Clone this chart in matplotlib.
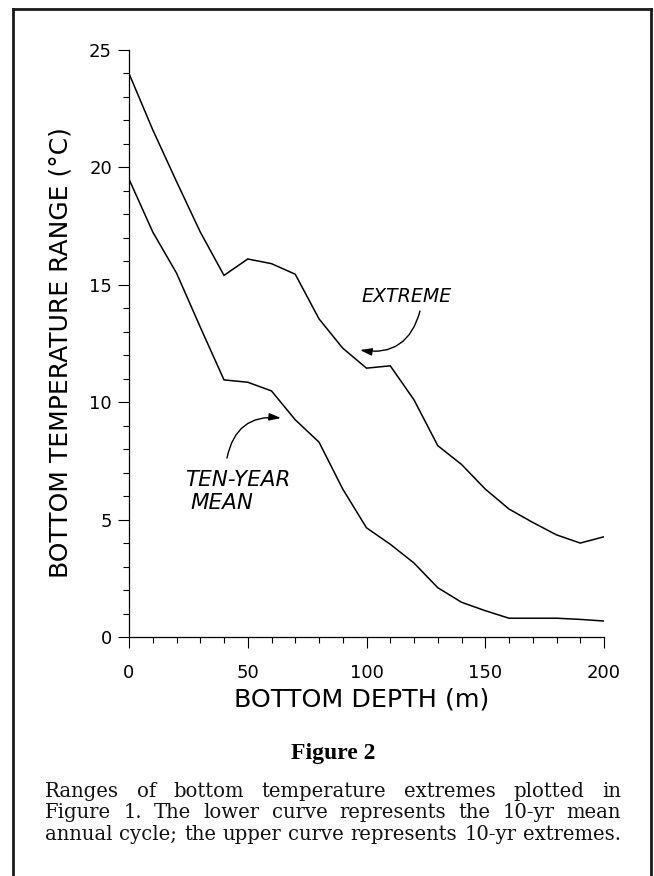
import matplotlib
matplotlib.use("Agg")
import matplotlib.pyplot as plt
from matplotlib.lines import Line2D
from matplotlib.ticker import MultipleLocator

# ---- data ----
depth = [0, 10, 20, 30, 40, 50, 60, 70, 80, 90, 100, 110, 120, 130, 140, 150,
         160, 170, 180, 190, 200]
extreme = [24.0, 21.6, 19.4, 17.25, 15.4, 16.1, 15.9, 15.45, 13.55, 12.3, 11.45,
           11.55, 10.1, 8.15, 7.35, 6.3, 5.45, 4.88, 4.35, 4.0, 4.27]
ten_year_mean = [19.5, 17.25, 15.5, 13.2, 10.95, 10.85, 10.48, 9.25, 8.3, 6.3, 4.65,
                 3.95, 3.15, 2.1, 1.48, 1.12, 0.8, 0.8, 0.8, 0.75, 0.68]
x_ticks = [0, 50, 100, 150, 200]
y_ticks = [0, 5, 10, 15, 20, 25]
x_label = "BOTTOM DEPTH (m)"
y_label = "BOTTOM TEMPERATURE RANGE (°C)"
caption_title = "Figure 2"
caption_lines = [
    "Ranges of bottom temperature extremes plotted in",
    "Figure 1. The lower curve represents the 10-yr mean",
    "annual cycle; the upper curve represents 10-yr extremes.",
]

W, H = 654, 876
fig = plt.figure(figsize=(W / 100, H / 100), dpi=100)
fig.patch.set_facecolor("white")

def fx(px):
    return px / W

def fy(py):
    return 1 - py / H

ax_l, ax_r, ax_t, ax_b = 129, 604, 50, 637
ax = fig.add_axes([fx(ax_l), fy(ax_b), (ax_r - ax_l) / W, (ax_b - ax_t) / H])
ax.plot(depth, extreme, color="black", lw=1.1, solid_joinstyle="miter")
ax.plot(depth, ten_year_mean, color="black", lw=1.1, solid_joinstyle="miter")
ax.set_xlim(0, 200)
ax.set_ylim(0, 25)
for s in ["top", "right"]:
    ax.spines[s].set_visible(False)
for s in ["left", "bottom"]:
    ax.spines[s].set_linewidth(0.9)
ax.set_xticks(x_ticks)
ax.set_yticks(y_ticks)
ax.xaxis.set_minor_locator(MultipleLocator(10))
ax.yaxis.set_minor_locator(MultipleLocator(1))
ax.tick_params(which="major", direction="out", length=8.2, width=0.8, labelsize=13)
ax.tick_params(which="minor", direction="out", length=4.5, width=0.8)
ax.tick_params(axis="y", which="major", pad=4)
ax.tick_params(axis="x", which="major", pad=11)
for lab in ax.get_xticklabels() + ax.get_yticklabels():
    lab.set_fontfamily("DejaVu Sans")

# axis labels
fig.text(fx(362), fy(700), x_label, ha="center", va="center", fontsize=18.3,
         family="DejaVu Sans")
fig.text(fx(61), fy(352.5), y_label, ha="center", va="center", rotation=90,
         fontsize=18, family="DejaVu Sans")

# annotations
def dx(px):
    return (px - ax_l) / (ax_r - ax_l) * 200

def dy(py):
    return (ax_b - py) / (ax_b - ax_t) * 25

ax.text(dx(406.5), dy(297), "EXTREME", ha="center", va="center", fontsize=13.7,
        style="italic", family="DejaVu Sans")
ax.annotate("", xy=(dx(360), dy(350)), xytext=(dx(420), dy(311)),
            arrowprops=dict(arrowstyle="-|>,head_length=0.7,head_width=0.22",
                            connectionstyle="arc3,rad=-0.45", color="black",
                            lw=1.0, shrinkA=0, shrinkB=0))
ax.text(dx(185), dy(480), "TEN-YEAR", ha="left", va="center", fontsize=15.5,
        style="italic", family="DejaVu Sans")
ax.text(dx(190), dy(503), "MEAN", ha="left", va="center", fontsize=15.5,
        style="italic", family="DejaVu Sans")
ax.annotate("", xy=(dx(281), dy(418)), xytext=(dx(227), dy(458)),
            arrowprops=dict(arrowstyle="-|>,head_length=0.7,head_width=0.22",
                            connectionstyle="arc3,rad=-0.45", color="black",
                            lw=1.0, shrinkA=0, shrinkB=0))

# caption
fig.text(fx(333), fy(753), caption_title, ha="center", va="center", fontsize=17,
         weight="bold", family="Liberation Serif")

renderer = fig.canvas.get_renderer()
cap_left, cap_right = 45, 621
cap_family = "DejaVu Serif"

# choose a caption size so that the last (tightest) line fills the width
probe = fig.text(0, 0, caption_lines[2], fontsize=10, family=cap_family)
probe_w = probe.get_window_extent(renderer=renderer).width
probe.remove()
cap_size = 10 * (cap_right - cap_left) / probe_w

line_y = [792, 813.5, 835]
for line, yc in zip(caption_lines, line_y):
    words = line.split(" ")
    texts = []
    widths = []
    for w in words:
        t = fig.text(0, fy(yc + 5), w, ha="left", va="baseline", fontsize=cap_size,
                     family=cap_family, color="#111111")
        bb = t.get_window_extent(renderer=renderer)
        texts.append(t)
        widths.append(bb.width)
    gap = ((cap_right - cap_left) - sum(widths)) / (len(words) - 1)
    x = cap_left
    for t, wdt in zip(texts, widths):
        t.set_x(fx(x))
        x += wdt + gap

# border
for (x0, y0, x1, y1) in [(12.5, 9, 651, 9), (12.5, 9, 12.5, 876), (651, 9, 651, 876)]:
    fig.add_artist(Line2D([fx(x0), fx(x1)], [fy(y0), fy(y1)], color="#1a1a1a",
                          lw=2.0, transform=fig.transFigure))

fig.savefig("out.png", dpi=100, facecolor="white")
